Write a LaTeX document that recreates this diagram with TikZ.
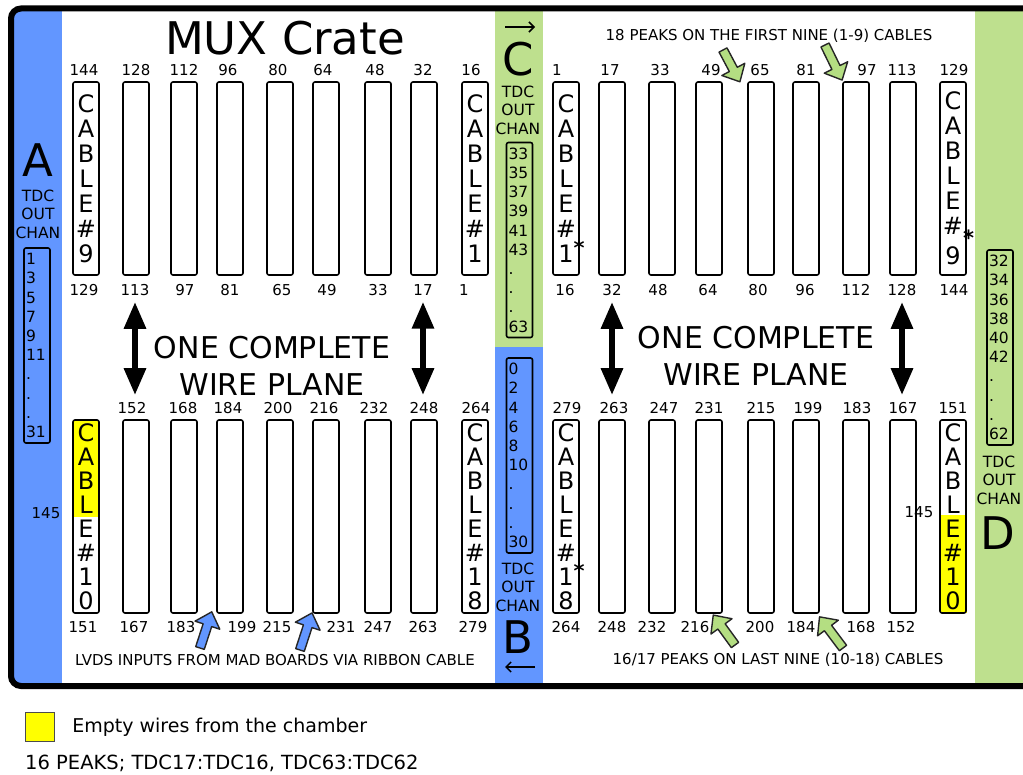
\documentclass[tikz,border=0pt]{standalone}
\usepackage{fontspec}
\setmainfont{DejaVu Sans}
\usetikzlibrary{positioning, arrows.meta}
\definecolor{chanblue}{RGB}{98,150,255}
\definecolor{changreen}{RGB}{190,224,142}
\definecolor{peakgreen}{RGB}{180,222,130}
\definecolor{emptyyellow}{RGB}{255,255,0}
\newcommand{\upstar}{\rlap{\raisebox{0.3em}{\fontsize{21}{21}\bfseries *}}}
\newcommand{\lowstar}{\rlap{\raisebox{-0.45em}{\fontsize{21}{21}\bfseries *}}}

\tikzset{
  wire/.style={draw, line width=1.6pt, rounded corners=2pt, minimum width=26pt, minimum height=193pt, inner sep=0pt},
  cable/.style={wire, align=center, font=\fontsize{24}{25}\selectfont},
  longcable/.style={wire, align=center, font=\fontsize{24}{24}\selectfont},
  num/.style={font=\fontsize{15}{17}\selectfont, inner sep=0pt},
  chanbox/.style={draw, line width=1.6pt, rounded corners=2pt, minimum width=26pt, minimum height=195pt, inner sep=1.5pt, text width=22pt, align=left, font=\fontsize{15.5}{19.2}\selectfont},
  chanlbl/.style={font=\fontsize{15.5}{18.5}\selectfont, align=center, inner sep=0pt},
  bigletter/.style={font=\fontsize{45}{45}\selectfont, inner sep=0pt},
  note/.style={font=\fontsize{15}{17}\selectfont, inner sep=0pt},
  planelbl/.style={font=\fontsize{30}{37}\selectfont, align=center, inner sep=0pt},
  planearrow/.style={line width=6pt, {Triangle[width=21pt,length=27pt]}-{Triangle[width=21pt,length=27pt]}, shorten <=6pt, shorten >=7pt},
  peakarrow/.style={draw=black!85, line width=1.4pt, line join=round},
  smallarrow/.style={line width=1.5pt, -{Straight Barb[length=5pt,width=10pt]}},
}

\begin{document}
\begin{tikzpicture}[x=1pt, y=-1pt]
    \useasboundingbox (0,0) rectangle (1023,775);
    \clip (0,0) rectangle (1023,775);
    \fill[white] (0,0) rectangle (1023,775);

    % TDC strips
    \fill[chanblue] (14,11) rectangle (62,684);
    \fill[changreen] (495,11) rectangle (543,347);
    \fill[chanblue] (495,347) rectangle (543,684);
    \fill[changreen] (975,11) rectangle (1040,684);

    % Title
    \node[font=\fontsize{45}{45}\selectfont, inner sep=0pt] (title) at (285,38) {MUX Crate};

    % empty wires (yellow)
    \fill[emptyyellow] (73,420) rectangle (99,517);
    \fill[emptyyellow] (940,515) rectangle (967,613);

    % Left half, upper cables
    \node[cable] (tlc9) at (86,178.5) {C\\A\\B\\L\\E\\\#\\9};
    \foreach \x [count=\i] in {136,184,230,280,326,378,424}
        \node[wire] (tlw\i) at (\x,178.5) {};
    \node[cable] (tlc1) at (475,178.5) {C\\A\\B\\L\\E\\\#\\1};
    \foreach \x/\n in {84/144,136/128,184/112,228/96,278/80,323/64,375/48,423/32,471/16}
        \node[num] (tlt\n) at (\x,70) {\n};
    \foreach \x/\n in {84/129,135/113,185/97,230/81,282/65,327/49,378/33,423/17,464/1}
        \node[num] (tlb\n) at (\x,290) {\n};

    % Left half, lower cables
    \node[longcable] (blc10) at (86,516.5) {C\\A\\B\\L\\E\\\#\\1\\0};
    \foreach \x [count=\i] in {136,184,230,280,326,378,424}
        \node[wire] (blw\i) at (\x,516.5) {};
    \node[longcable] (blc18) at (475,516.5) {C\\A\\B\\L\\E\\\#\\1\\8};
    \foreach \x/\n in {132/152,183/168,228/184,278/200,324/216,374/232,424/248,476/264}
        \node[num] (blt\n) at (\x,408) {\n};
    \foreach \x/\n in {83/151,134/167,181/183,242/199,277/215,341/231,378/247,423/263,473/279}
        \node[num] (blb\n) at (\x,627) {\n};
    \node[num] (bl145) at (46,513) {145};

    % Right half, upper cables
    \node[cable] (trc1) at (566,178.5) {C\\A\\B\\L\\E\\\#\\1\upstar};
    \foreach \x [count=\i] in {612,662,709,761,806,856,903}
        \node[wire] (trw\i) at (\x,178.5) {};
    \node[cable] (trc9) at (953,178.5) {C\\A\\B\\L\\E\\\#\lowstar\\9};
    \foreach \x/\n in {557/1,610/17,660/33,711/49,760/65,806/81,867/97,902/113,954/129}
        \node[num] (trt\n) at (\x,70) {\n};
    \foreach \x/\n in {565/16,612/32,658/48,708/64,758/80,805/96,856/112,902/128,954/144}
        \node[num] (trb\n) at (\x,290) {\n};

    % Right half, lower cables
    \node[longcable] (brc18) at (566,516.5) {C\\A\\B\\L\\E\\\#\\1\upstar\\8};
    \foreach \x [count=\i] in {612,662,709,761,806,856,903}
        \node[wire] (brw\i) at (\x,516.5) {};
    \node[longcable] (brc10) at (953,516.5) {C\\A\\B\\L\\E\\\#\\1\\0};
    \foreach \x/\n in {567/279,614/263,664/247,709/231,761/215,808/199,857/183,903/167,953/151}
        \node[num] (brt\n) at (\x,408) {\n};
    \foreach \x/\n in {566/264,612/248,652/232,695/216,760/200,801/184,861/168,901/152}
        \node[num] (brb\n) at (\x,627) {\n};
    \node[num] (br145) at (919,512) {145};

    % One complete wire plane
    \node[planelbl] (leftplane) at (272,366) {ONE COMPLETE\\WIRE PLANE};
    \node[planelbl] (rightplane) at (756,356) {ONE COMPLETE\\WIRE PLANE};
    \draw[planearrow] (tlb113.south) -- (tlb113.south |- blt152.north);
    \draw[planearrow] (tlb17.south) -- (tlb17.south |- blt248.north);
    \draw[planearrow] (trb32.south) -- (trb32.south |- brt263.north);
    \draw[planearrow] (trb128.south) -- (trb128.south |- brt167.north);

    % TDC output channels
    \node[bigletter] (lblA) at (38,160) {A};
    \node[chanlbl] (tdcA) at (38,214) {TDC\\OUT\\CHAN};
    \node[chanbox] (chanA) at (37,345.5) {1\\3\\5\\7\\9\\11\\.\\.\\.\\31};

    \node[bigletter] (lblC) at (518,59) {C};
    \coordinate (cstart) at (505,27);
    \coordinate (cend) at (535,27);
    \draw[smallarrow] (cstart) -- (cend);
    \node[chanlbl] (tdcC) at (518,110) {TDC\\OUT\\CHAN};
    \node[chanbox] (chanC) at (519.5,240) {33\\35\\37\\39\\41\\43\\.\\.\\.\\63};

    \node[chanbox] (chanB) at (519.5,455.5) {0\\2\\4\\6\\8\\10\\.\\.\\.\\30};
    \node[chanlbl] (tdcB) at (518,587) {TDC\\OUT\\CHAN};
    \node[bigletter] (lblB) at (518,637) {B};
    \coordinate (bstart) at (535,667);
    \coordinate (bend) at (505,667);
    \draw[smallarrow] (bstart) -- (bend);

    \node[chanbox] (chanD) at (1000,347.5) {32\\34\\36\\38\\40\\42\\.\\.\\.\\62};
    \node[chanlbl] (tdcD) at (999,480) {TDC\\OUT\\CHAN};
    \node[bigletter] (lblD) at (998,533) {D};

    % Peak and input arrows
    \foreach \x/\y/\a/\l/\c in {200/648/72/38/chanblue, 300/650/72/39/chanblue,
            723/50/-62/36/peakgreen, 825/45/-64/39/peakgreen,
            735/645/126/37/peakgreen, 843/648/127/39/peakgreen}
        \draw[peakarrow, fill=\c, shift={(\x,\y)}, rotate=\a]
            (0,-4.5) -- ({\l-14},-4.5) -- ({\l-14},-13) -- (\l,0) -- ({\l-14},13) -- ({\l-14},4.5) -- (0,4.5) -- cycle;

    % Notes
    \node[note] (firstnine) at (769,36) {18 PEAKS ON THE FIRST NINE (1-9) CABLES};
    \node[note] (lvds) at (275,660) {LVDS INPUTS FROM MAD BOARDS VIA RIBBON CABLE};
    \node[note] (lastnine) at (778,660) {16/17 PEAKS ON LAST NINE (10-18) CABLES};

    % Crate frame
    \draw[line width=6pt, rounded corners=10pt] (11,8.5) rectangle (1045,686);

    % Legend
    \node[draw=black!70, line width=1.2pt, fill=emptyyellow, minimum size=29pt, inner sep=0pt] (legbox) at (40,727) {};
    \node[right=17pt of legbox, font=\fontsize{19}{22}\selectfont, inner sep=0pt] (legtext) {Empty wires from the chamber};
    \node[anchor=west, font=\fontsize{19.5}{22}\selectfont, inner sep=0pt] (peaks16) at (25,763) {16 PEAKS; TDC17:TDC16, TDC63:TDC62};
\end{tikzpicture}
\end{document}
